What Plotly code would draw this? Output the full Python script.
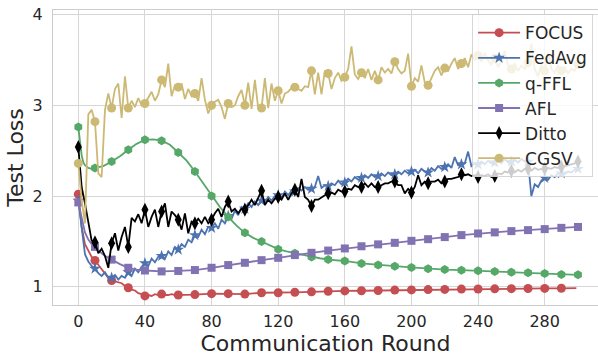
import plotly.graph_objects as go

# ---------------- data ----------------
rounds_2 = list(range(0, 301, 2))

focus_rounds = list(range(0, 61, 2)) + list(range(70, 291, 10)) + [299]
focus_loss = [
    2.02, 1.66, 1.47, 1.40, 1.33, 1.29, 1.24, 1.19, 1.15, 1.10,
    1.07, 1.06, 1.05, 1.04, 1.01, 0.99, 0.97, 0.96, 0.93, 0.92,
    0.90, 0.91, 0.90, 0.92, 0.91, 0.92, 0.91, 0.91, 0.92, 0.91,
    0.91,
    0.915, 0.925, 0.925, 0.92, 0.935, 0.935, 0.94, 0.945, 0.952, 0.955,
    0.957, 0.96, 0.964, 0.966, 0.97, 0.972, 0.975, 0.976, 0.978, 0.98,
    0.982, 0.983, 0.984, 0.985,
]

fedavg_loss = [
    1.95, 1.62, 1.36, 1.28, 1.23, 1.20, 1.15, 1.12, 1.16, 1.10,
    1.10, 1.13, 1.08, 1.12, 1.10, 1.16, 1.12, 1.20, 1.16, 1.22,
    1.26, 1.23, 1.31, 1.27, 1.33, 1.34, 1.31, 1.39, 1.35, 1.44,
    1.41, 1.47, 1.44, 1.52, 1.49, 1.57, 1.55, 1.63, 1.58, 1.66,
    1.65, 1.70, 1.64, 1.74, 1.70, 1.78, 1.75, 1.84, 1.79, 1.88,
    1.86, 1.92, 1.88, 1.94, 1.90, 1.95, 1.93, 1.99, 1.95, 2.00,
    2.01, 1.98, 2.05, 2.01, 2.06, 2.05, 2.09, 2.06, 2.10, 2.07,
    2.08, 2.10, 2.22, 2.09, 2.12, 2.11, 2.14, 2.12, 2.17, 2.13,
    2.15, 2.19, 2.16, 2.21, 2.18, 2.20, 2.23, 2.20, 2.24, 2.21,
    2.22, 2.25, 2.22, 2.26, 2.23, 2.24, 2.27, 2.24, 2.28, 2.25,
    2.27, 2.29, 2.25, 2.30, 2.27, 2.26, 2.31, 2.28, 2.33, 2.30,
    2.32, 2.35, 2.31, 2.43, 2.34, 2.35, 2.36, 2.49, 2.33, 2.36,
    2.35, 2.38, 2.35, 2.39, 2.36, 2.37, 2.40, 2.36, 2.41, 2.37,
    2.38, 2.40, 2.37, 2.41, 2.38, 2.38, 2.00, 2.13, 2.10, 2.17,
    2.20, 2.18, 2.23, 2.21, 2.25, 2.25, 2.24, 2.27, 2.26, 2.29,
    2.30,
]

qffl_rounds = [0, 1, 2, 3, 4, 6, 8, 10] + list(range(15, 151, 5)) + list(range(160, 301, 10))
qffl_loss = [
    2.76, 2.60, 2.45, 2.37, 2.34, 2.31, 2.30, 2.31,
    2.33, 2.38, 2.44, 2.51, 2.575, 2.62, 2.625, 2.61, 2.565, 2.48,
    2.39, 2.27, 2.14, 2.00, 1.88, 1.77, 1.675, 1.595, 1.54, 1.50,
    1.455, 1.415, 1.39, 1.37, 1.35, 1.33, 1.315, 1.30,
    1.285, 1.258, 1.24, 1.228, 1.214, 1.20, 1.19, 1.184, 1.176, 1.17,
    1.162, 1.154, 1.148, 1.137, 1.132,
]

afl_rounds = list(range(0, 21, 2)) + [25, 30, 35, 40] + list(range(50, 301, 10))
afl_loss = [
    1.93, 1.75, 1.60, 1.52, 1.47, 1.44, 1.40, 1.37, 1.34, 1.32, 1.30,
    1.25, 1.21, 1.19, 1.18,
    1.17, 1.175, 1.185, 1.21, 1.24, 1.265, 1.294, 1.32, 1.35, 1.375,
    1.40, 1.423, 1.447, 1.468, 1.485, 1.507, 1.525, 1.548, 1.57, 1.588,
    1.60, 1.614, 1.625, 1.636, 1.65, 1.66,
]

ditto_loss = [
    2.54, 2.10, 1.92, 1.73, 1.51, 1.49, 1.37, 1.42, 1.34, 1.21,
    1.48, 1.59, 1.40, 1.55, 1.66, 1.44, 1.76, 1.72, 1.80, 1.70,
    1.85, 1.66, 1.77, 1.85, 1.66, 1.83, 1.92, 1.66, 1.83, 1.79,
    1.74, 1.63, 1.81, 1.59, 1.72, 1.70, 1.75, 1.70, 1.77, 1.70,
    1.74, 1.81, 1.86, 1.77, 1.88, 1.94, 1.83, 1.86, 1.81, 1.86,
    1.85, 1.90, 1.96, 1.90, 1.99, 2.06, 1.90, 1.96, 1.92, 1.97,
    1.99, 1.96, 2.03, 1.96, 2.03, 2.07, 1.99, 2.19, 1.99, 1.96,
    1.89, 1.96, 1.96, 1.99, 2.01, 2.03, 2.04, 2.02, 2.07, 2.05,
    2.05, 2.08, 2.07, 2.12, 2.10, 2.10, 2.14, 2.10, 2.14, 2.10,
    2.10, 2.12, 2.14, 2.14, 2.16, 2.16, 2.12, 2.12, 2.03, 2.08,
    2.04, 2.10, 2.23, 2.12, 2.16, 2.14, 2.16, 2.16, 2.18, 2.14,
    2.16, 2.19, 2.19, 2.20, 2.21, 2.24, 2.23, 2.24, 2.22, 2.23,
    2.21, 2.23, 2.22, 2.24, 2.21, 2.22, 2.25, 2.24, 2.27, 2.26,
    2.28, 2.26, 2.29, 2.27, 2.30, 2.30, 2.28, 2.31, 2.29, 2.30,
    2.30, 2.31, 2.30, 2.32, 2.31, 2.32, 2.33, 2.34, 2.35, 2.36,
    2.38,
]

cgsv_loss = [
    2.36, 1.95, 1.70, 2.90, 2.95, 2.82, 2.25, 2.21, 2.95, 3.13,
    2.97, 3.18, 3.24, 2.86, 3.32, 2.97, 3.05, 2.98, 3.08, 3.00,
    3.02, 3.08, 3.15, 3.05, 3.12, 3.28, 3.20, 3.46, 3.10, 3.22,
    3.20, 3.24, 3.07, 3.18, 3.10, 3.13, 3.05, 3.30, 3.06, 2.91,
    3.00, 3.04, 3.06, 2.98, 2.85, 3.02, 2.98, 3.00, 3.10, 3.17,
    3.00, 3.25, 2.96, 3.28, 2.97, 2.97, 3.30, 2.97, 3.24, 3.05,
    3.16, 3.02, 3.13, 3.15, 3.19, 3.20, 3.18, 3.16, 3.21, 3.20,
    3.38, 3.12, 3.36, 3.12, 3.38, 3.35, 3.18, 3.30, 3.36, 3.27,
    3.31, 3.40, 3.65, 3.34, 3.29, 3.36, 3.30, 3.40, 3.28, 3.38,
    3.28, 3.42, 3.36, 3.40, 3.35, 3.48, 3.40, 3.35, 3.38, 3.57,
    3.21, 3.30, 3.26, 3.44, 3.25, 3.22, 3.30, 3.38, 3.42, 3.33,
    3.41, 3.38, 3.46, 3.52, 3.40, 3.46, 3.52, 3.42, 3.56, 3.50,
    3.55, 3.48, 3.58, 3.50, 3.45, 3.52, 3.42, 3.48, 3.60, 3.44,
    3.40, 3.46, 3.38, 3.44, 3.40, 3.47, 3.68, 3.40, 3.32, 3.45,
    3.38, 3.58, 3.40, 3.36, 3.44, 3.38, 3.42, 3.35, 3.40, 3.38,
    3.45,
]

x_ticks = [0, 40, 80, 120, 160, 200, 240, 280]
y_ticks = [1, 2, 3, 4]

# name, rounds, values, colour, marker symbol, marker size
series = [
    ("FOCUS", focus_rounds, focus_loss, "#C44E52", "circle", 9),
    ("FedAvg", rounds_2, fedavg_loss, "#4C72B0", "star", 9),
    ("q-FFL", qffl_rounds, qffl_loss, "#55A868", "hexagon", 9),
    ("AFL", afl_rounds, afl_loss, "#8172B2", "square", 8),
    ("Ditto", rounds_2, ditto_loss, "#000000", "diamond-tall", 10),
    ("CGSV", rounds_2, cgsv_loss, "#CCB974", "circle", 9),
]

fig = go.Figure()
for name, xs, ys, color, symbol, msize in series:
    # full curve
    fig.add_trace(go.Scatter(
        x=xs, y=ys, mode="lines", line=dict(color=color, width=1.8),
        showlegend=False, hoverinfo="skip"))
    # markers every 10 rounds
    mx = [x for x in xs if x % 10 == 0]
    my = [y for x, y in zip(xs, ys) if x % 10 == 0]
    fig.add_trace(go.Scatter(
        x=mx, y=my, mode="markers",
        marker=dict(color=color, symbol=symbol, size=msize, line=dict(width=0)),
        showlegend=False, hoverinfo="skip"))
    # legend entry
    fig.add_trace(go.Scatter(
        x=[None], y=[None], mode="lines+markers", name=name,
        line=dict(color=color, width=1.8),
        marker=dict(color=color, symbol=symbol, size=msize, line=dict(width=0))))

axis_common = dict(
    showgrid=True, gridcolor="#d6d6d6", gridwidth=1,
    showline=True, linecolor="#cccccc", linewidth=1.2, mirror=True,
    zeroline=False, ticks="outside", tickcolor="rgba(0,0,0,0)",
    tickfont=dict(family="DejaVu Sans", size=16, color="#262626"),
)

fig.update_layout(
    width=598, height=356,
    margin=dict(l=53, r=0, t=10, b=51),
    paper_bgcolor="white", plot_bgcolor="white",
    font=dict(family="DejaVu Sans", color="#262626"),
    xaxis=dict(range=[-15.2, 312], tickvals=x_ticks, ticklen=2,
               title=dict(text="Communication Round", font=dict(size=22), standoff=6),
               **axis_common),
    yaxis=dict(range=[0.80, 4.05], tickvals=y_ticks, ticklen=6,
               title=dict(text="Test Loss", font=dict(size=22), standoff=2),
               **axis_common),
    legend=dict(x=0.769, y=0.986, xanchor="left", yanchor="top",
                bgcolor="rgba(255,255,255,0.8)", bordercolor="rgba(204,204,204,0.8)",
                borderwidth=1, font=dict(size=17, color="#262626"),
                itemwidth=42, tracegroupgap=0),
)

fig.write_html("out.html")
